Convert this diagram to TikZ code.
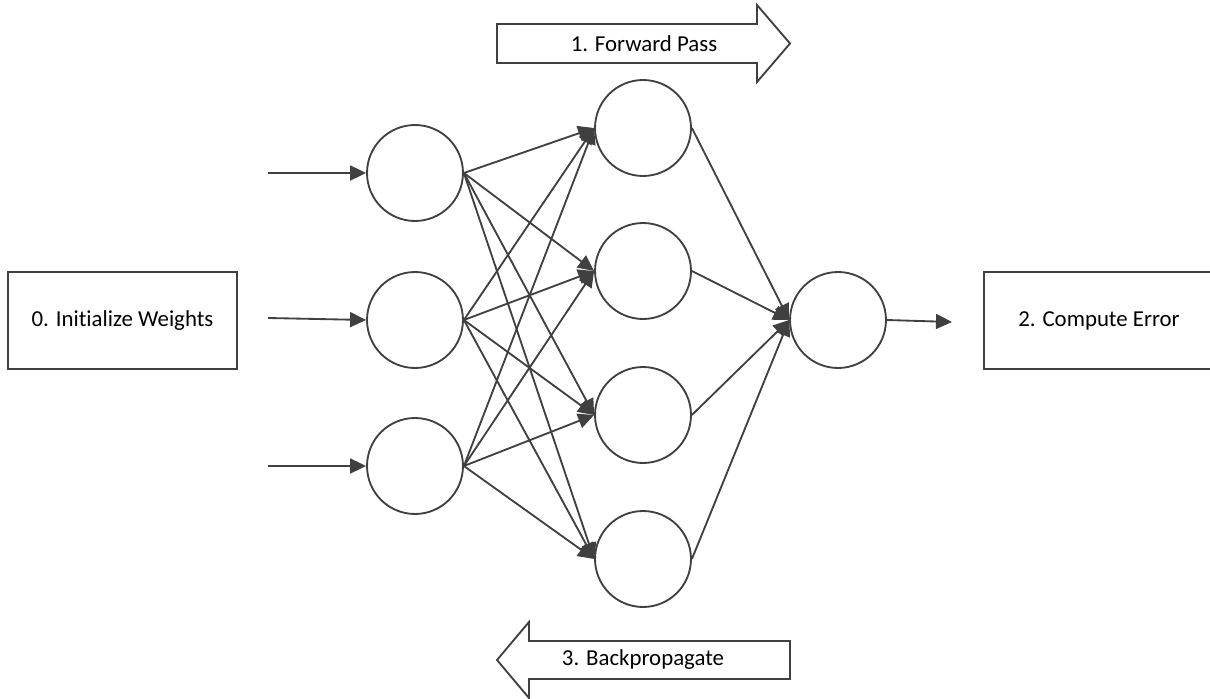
\documentclass[tikz,border=0pt]{standalone}
\usepackage{fontspec}
\setmainfont{Carlito}[RawFeature=-liga]
\usetikzlibrary{arrows.meta}
\definecolor{linegray}{RGB}{64,64,64}
\begin{document}
\begin{tikzpicture}[
        x=0.02cm, y=-0.02cm,
        every node/.style={font=\fontsize{13}{15}\selectfont},
        % Node Styles
        neuron/.style={
            circle,
            draw=linegray,
            line width=1.05pt,
            fill=white,
            minimum size=1.92cm,
            inner sep=0pt
        },
        stepbox/.style={
            rectangle,
            draw=linegray,
            line width=1.05pt,
            fill=white,
            minimum height=1.94cm,
            inner sep=0pt
        },
        blockarrow/.style={draw=linegray, line width=1.05pt, fill=white},
        % Connector Styles
        arrow/.style={-{Triangle[length=3.2mm,width=3mm]}, line width=1.05pt, draw=linegray}
    ]
    \useasboundingbox (0,0) rectangle (1210,699);

    % --- Steps (Left / Right) ---
    \node[stepbox, minimum width=4.58cm] (init) at (122.5,320.5) {0. Initialize Weights};
    % (runs past the right edge)
    \node[stepbox, minimum width=5.12cm] (error) at (1112,320.5) {2. Compute Error\kern0.52cm\null};

    % --- Input Layer ---
    \node[neuron] (in1) at (415,173) {};
    \node[neuron] (in2) at (415,320) {};
    \node[neuron] (in3) at (415,466) {};

    % --- Hidden Layer ---
    \node[neuron] (h1) at (643,128) {};
    \node[neuron] (h2) at (643,271) {};
    \node[neuron] (h3) at (643,415) {};
    \node[neuron] (h4) at (643,559) {};

    % --- Output Layer ---
    \node[neuron] (out) at (838,320) {};

    % --- Loose ends ---
    \coordinate (x1) at (268,173);
    \coordinate (x2) at (268,318);
    \coordinate (x3) at (268,466);
    \coordinate (y) at (952,322);

    % --- Paths & Connections ---
    \foreach \i in {1,2,3} {
        \draw[arrow] (x\i) -- (in\i.west);
        \foreach \j in {1,...,4}
            \draw[arrow] (in\i.east) -- (h\j.west);
    }
    \foreach \j in {1,...,4}
        \draw[arrow] (h\j.east) -- (out.west);
    \draw[arrow] (out.east) -- (y);

    % --- Forward / Backward block arrows ---
    \draw[blockarrow] (497,24) -- (757,24) -- (757,5) -- (790,43.5)
        -- (757,82) -- (757,63) -- (497,63) -- cycle;
    \node (fwd) at (644,44) {1. Forward Pass};
    \draw[blockarrow] (790,641) -- (529,641) -- (529,622) -- (497,660)
        -- (529,698) -- (529,679) -- (790,679) -- cycle;
    \node (bwd) at (643,660) {3. Backpropagate};

\end{tikzpicture}
\end{document}
